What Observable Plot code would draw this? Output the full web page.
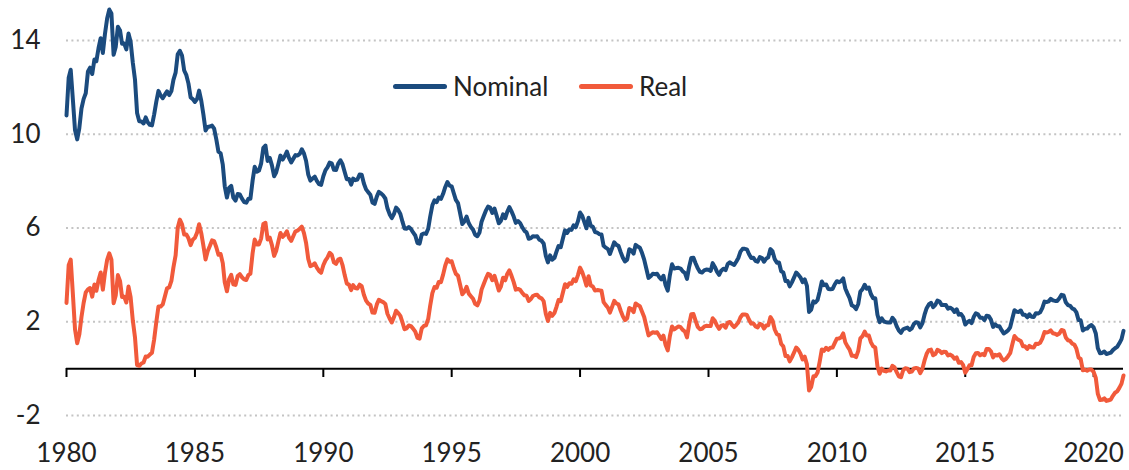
<!DOCTYPE html>
<html><head><meta charset="utf-8">
<script src="https://cdn.jsdelivr.net/npm/d3@7"></script>
<script src="https://cdn.jsdelivr.net/npm/@observablehq/plot@0.6"></script>
<style>
html,body{margin:0;padding:0;background:#fff;}
#wrap{position:relative;width:1129px;height:470px;font-family:Lato,sans-serif;}
.leg{position:absolute;display:flex;align-items:center;height:30px;font-size:26px;color:#222;white-space:nowrap;}
.sw{display:inline-block;width:54px;height:5px;border-radius:3px;margin-right:6px;}
</style></head><body><div id="wrap"></div>
<script>
const startYear = 1980; // monthly series, January 1980 onwards
const seriesNames = ["Nominal", "Real"];
const seriesColors = ["#1B4B7E", "#F15A3B"];
const yTicks = [-2, 2, 6, 10, 14];
const xTickYears = [1980, 1985, 1990, 1995, 2000, 2005, 2010, 2015, 2020];

const nominal = [
10.80,12.41,12.75,11.47,10.18,9.78,10.25,11.10,11.51,11.75,12.68,12.84,
12.57,13.19,13.12,13.68,14.10,13.47,14.28,14.94,15.32,15.15,13.39,13.72,
14.59,14.43,13.86,13.87,13.62,14.30,13.95,13.06,12.34,10.91,10.55,10.54,
10.46,10.72,10.51,10.40,10.38,10.85,11.38,11.85,11.65,11.54,11.69,11.83,
11.67,11.84,12.32,12.63,13.41,13.56,13.36,12.72,12.52,12.16,11.57,11.50,
11.38,11.51,11.86,11.43,10.85,10.16,10.31,10.33,10.37,10.24,9.78,9.26,
9.19,8.70,7.78,7.30,7.71,7.80,7.30,7.17,7.45,7.43,7.25,7.11,
7.08,7.25,7.25,8.02,8.61,8.40,8.45,8.76,9.42,9.52,8.86,8.99,
8.67,8.21,8.37,8.72,9.09,8.92,9.06,9.26,8.98,8.80,8.96,9.11,
9.09,9.17,9.36,9.18,8.86,8.28,8.02,8.11,8.19,8.01,7.87,7.84,
8.21,8.47,8.59,8.79,8.76,8.48,8.47,8.75,8.89,8.72,8.39,8.08,
8.09,7.85,8.11,8.04,8.07,8.28,8.27,7.90,7.65,7.53,7.42,7.09,
7.03,7.34,7.54,7.48,7.39,7.26,6.84,6.59,6.42,6.59,6.87,6.77,
6.60,6.26,5.98,5.97,6.04,5.96,5.81,5.68,5.36,5.33,5.72,5.77,
5.75,5.97,6.48,6.97,7.18,7.10,7.30,7.24,7.46,7.74,7.96,7.81,
7.78,7.47,7.20,7.06,6.63,6.17,6.28,6.49,6.20,6.04,5.93,5.71,
5.65,5.81,6.27,6.51,6.74,6.91,6.87,6.64,6.83,6.53,6.20,6.30,
6.58,6.42,6.69,6.89,6.71,6.49,6.22,6.30,6.21,6.03,5.88,5.81,
5.54,5.57,5.65,5.64,5.65,5.50,5.46,5.34,4.81,4.53,4.83,4.65,
4.72,5.00,5.23,5.18,5.54,5.90,5.79,5.94,5.92,6.11,6.03,6.28,
6.66,6.52,6.26,5.99,6.44,6.10,6.05,5.83,5.80,5.74,5.72,5.24,
5.16,5.10,4.89,5.14,5.39,5.28,5.24,4.97,4.73,4.57,4.65,5.09,
5.04,4.91,5.28,5.21,5.16,4.93,4.65,4.26,3.87,3.94,4.05,4.03,
4.05,3.90,3.81,3.96,3.57,3.33,3.98,4.45,4.27,4.29,4.30,4.27,
4.15,4.08,3.83,4.35,4.72,4.73,4.50,4.28,4.13,4.10,4.19,4.23,
4.22,4.17,4.50,4.34,4.14,4.00,4.18,4.26,4.20,4.46,4.54,4.47,
4.42,4.57,4.72,4.99,5.11,5.11,5.09,4.88,4.72,4.73,4.60,4.56,
4.76,4.72,4.56,4.69,4.75,5.10,5.00,4.67,4.52,4.53,4.15,4.10,
3.74,3.74,3.51,3.68,3.88,4.10,4.01,3.89,3.69,3.81,3.53,2.42,
2.52,2.87,2.82,2.93,3.29,3.72,3.56,3.59,3.40,3.39,3.40,3.59,
3.73,3.69,3.73,3.85,3.42,3.20,3.01,2.70,2.65,2.54,2.76,3.29,
3.39,3.58,3.41,3.46,3.17,3.00,3.00,2.30,1.98,2.15,2.01,1.98,
1.97,1.97,2.17,2.05,1.80,1.62,1.53,1.68,1.72,1.75,1.65,1.72,
1.91,1.98,1.96,1.76,1.93,2.30,2.58,2.74,2.81,2.62,2.72,2.90,
2.86,2.71,2.72,2.71,2.56,2.60,2.54,2.42,2.53,2.30,2.33,2.21,
1.88,1.98,2.04,1.94,2.20,2.36,2.32,2.17,2.17,2.07,2.26,2.24,
2.09,1.78,1.89,1.81,1.81,1.64,1.50,1.56,1.63,1.76,2.14,2.49,
2.43,2.42,2.48,2.30,2.30,2.19,2.32,2.21,2.20,2.36,2.35,2.40,
2.58,2.86,2.84,2.87,2.98,2.91,2.89,2.89,3.00,3.15,3.12,2.83,
2.71,2.68,2.57,2.53,2.40,2.07,2.06,1.63,1.70,1.71,1.81,1.86,
1.76,1.50,0.87,0.66,0.67,0.73,0.62,0.65,0.68,0.79,0.87,0.93,
1.08,1.26,1.61
];

const real = [
2.80,4.41,4.65,3.17,1.68,1.08,1.45,2.20,2.81,3.25,3.38,3.44,
3.07,3.59,3.32,3.78,4.10,3.37,4.08,4.64,4.92,4.65,2.79,3.12,
3.99,3.73,3.06,3.07,2.82,3.50,3.05,2.06,1.34,0.15,0.12,0.22,
0.26,0.52,0.51,0.60,0.68,1.25,1.98,2.65,2.65,2.74,3.09,3.43,
3.47,3.74,4.32,4.83,6.01,6.36,6.16,5.72,5.72,5.56,5.27,5.50,
5.58,5.81,6.16,5.78,5.25,4.66,5.01,5.23,5.47,5.44,5.18,4.86,
4.89,4.50,3.68,3.30,3.81,4.00,3.60,3.57,3.95,4.03,3.90,3.81,
3.78,4.00,4.05,4.92,5.51,5.30,5.30,5.56,6.17,6.22,5.51,5.59,
5.27,4.81,5.02,5.42,5.79,5.62,5.71,5.86,5.58,5.45,5.66,5.86,
5.89,5.97,6.06,5.78,5.36,4.68,4.37,4.41,4.49,4.31,4.17,4.09,
4.41,4.62,4.74,4.94,4.86,4.53,4.47,4.65,4.69,4.42,3.99,3.63,
3.59,3.35,3.56,3.44,3.42,3.58,3.52,3.15,2.90,2.78,2.72,2.39,
2.38,2.74,2.94,2.88,2.84,2.76,2.34,2.14,1.97,2.19,2.47,2.37,
2.25,1.96,1.68,1.72,1.84,1.81,1.71,1.58,1.31,1.28,1.72,1.82,
1.85,2.12,2.68,3.22,3.48,3.45,3.70,3.69,4.01,4.39,4.66,4.56,
4.58,4.27,4.05,3.96,3.58,3.17,3.28,3.49,3.20,3.09,2.98,2.76,
2.70,2.91,3.37,3.61,3.84,4.04,4.00,3.77,3.96,3.66,3.33,3.50,
3.88,3.77,4.04,4.19,3.96,3.69,3.37,3.40,3.36,3.23,3.13,3.11,
2.89,2.97,3.10,3.14,3.15,3.04,3.00,2.88,2.33,2.03,2.38,2.25,
2.37,2.65,2.93,2.88,3.24,3.60,3.49,3.64,3.62,3.81,3.73,3.98,
4.31,4.12,3.86,3.54,3.94,3.55,3.50,3.33,3.35,3.34,3.32,2.84,
2.71,2.60,2.39,2.64,2.89,2.78,2.74,2.47,2.23,2.07,2.15,2.59,
2.54,2.41,2.78,2.71,2.66,2.43,2.20,1.81,1.42,1.49,1.55,1.53,
1.55,1.40,1.26,1.41,1.02,0.78,1.38,1.80,1.67,1.74,1.80,1.77,
1.65,1.58,1.33,1.90,2.32,2.33,2.05,1.78,1.68,1.70,1.79,1.83,
1.82,1.82,2.15,2.04,1.84,1.70,1.83,1.86,1.75,1.96,1.99,1.87,
1.77,1.87,1.97,2.19,2.31,2.31,2.29,2.08,1.92,1.93,1.80,1.76,
1.91,1.87,1.71,1.84,1.85,2.20,2.05,1.67,1.47,1.43,1.05,0.95,
0.54,0.54,0.31,0.48,0.68,0.90,0.81,0.64,0.39,0.51,0.18,-0.93,
-0.78,-0.33,-0.33,-0.17,0.29,0.82,0.76,0.89,0.80,0.89,0.90,1.09,
1.28,1.29,1.33,1.50,1.12,0.95,0.81,0.55,0.55,0.49,0.76,1.29,
1.39,1.58,1.41,1.41,1.12,0.95,0.90,0.10,-0.22,0.00,-0.09,-0.12,
-0.08,-0.08,0.12,0.05,-0.15,-0.33,-0.37,-0.07,0.02,0.00,-0.15,-0.13,
0.01,0.03,0.01,-0.19,-0.02,0.35,0.63,0.79,0.81,0.57,0.62,0.80,
0.76,0.66,0.72,0.71,0.56,0.60,0.54,0.42,0.48,0.25,0.28,0.16,
-0.17,-0.02,0.14,0.14,0.50,0.66,0.67,0.57,0.62,0.57,0.84,0.84,
0.74,0.48,0.59,0.56,0.61,0.44,0.35,0.41,0.53,0.66,1.04,1.39,
1.28,1.22,1.18,0.95,0.95,0.84,0.97,0.91,0.90,1.06,1.05,1.10,
1.28,1.56,1.54,1.57,1.63,1.51,1.49,1.44,1.50,1.65,1.62,1.33,
1.21,1.18,1.07,1.03,0.85,0.47,0.41,-0.07,-0.05,-0.09,-0.04,-0.04,
-0.14,-0.40,-1.08,-1.34,-1.33,-1.27,-1.38,-1.35,-1.32,-1.16,-1.03,-0.97,
-0.82,-0.64,-0.29
];

const monthDate = (i) => new Date(Date.UTC(startYear, i, 1));
const rows = [];
nominal.forEach((v, i) => rows.push({date: monthDate(i), value: v, series: "Nominal"}));
real.forEach((v, i) => rows.push({date: monthDate(i), value: v, series: "Real"}));
const xTickDates = xTickYears.map(y => new Date(Date.UTC(y, 0, 1)));

const chart = Plot.plot({
  width: 1129,
  height: 470,
  marginLeft: 66,
  marginRight: 6,
  marginTop: 10,
  marginBottom: 102,
  style: {fontFamily: "Lato, sans-serif", fontSize: "26px", color: "#222", background: "#fff"},
  x: {type: "utc", domain: [monthDate(0), monthDate(nominal.length - 1)]},
  y: {domain: [-2, 14], range: [415, 40]},
  color: {domain: seriesNames, range: seriesColors},
  marks: [
    Plot.ruleY(yTicks, {stroke: "#c4c4c4", strokeWidth: 2, strokeDasharray: "2,3.4"}),
    Plot.axisY(yTicks, {tickSize: 0, tickPadding: 26, label: null, tickFormat: d => String(d), fontSize: 26}),
    Plot.axisX(xTickDates, {tickSize: 9, tickPadding: 66, label: null, tickFormat: d => String(d.getUTCFullYear()), stroke: "#000", strokeWidth: 2, fontSize: 26}),
    Plot.ruleY([0], {stroke: "#000", strokeWidth: 2}),
    Plot.lineY(rows, {x: "date", y: "value", z: "series", stroke: "series", strokeWidth: 4, strokeLinejoin: "round", strokeLinecap: "round"})
  ]
});

const wrap = document.getElementById("wrap");
wrap.appendChild(chart);

const legendPos = [{left: 393, top: 71}, {left: 579, top: 71}];
seriesNames.forEach((name, i) => {
  const d = document.createElement("div");
  d.className = "leg";
  d.style.left = legendPos[i].left + "px";
  d.style.top = legendPos[i].top + "px";
  const sw = document.createElement("span");
  sw.className = "sw";
  sw.style.background = seriesColors[i];
  d.appendChild(sw);
  d.appendChild(document.createTextNode(name));
  wrap.appendChild(d);
});
</script></body></html>
